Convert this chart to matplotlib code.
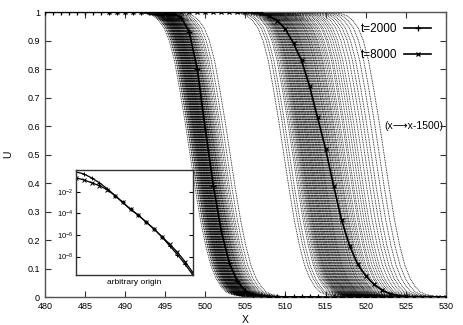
import matplotlib
matplotlib.use("Agg")
import matplotlib.pyplot as plt
from matplotlib.ticker import FuncFormatter, NullLocator

plt.rcParams['font.family'] = ['Liberation Sans', 'DejaVu Sans']

# averaged fronts (bold curves)
x_2000 = list(range(480, 524))
u_2000 = [1.0] * 16 + [0.995, 0.98, 0.93, 0.80, 0.59, 0.39, 0.23, 0.12, 0.055,
                       0.022, 0.008, 0.003] + [0.0] * 16
x_8000 = list(range(488, 531))
u_8000 = [1.0] * 18 + [0.999, 0.995, 0.985, 0.97, 0.94, 0.89, 0.83, 0.74, 0.63,
                       0.52, 0.39, 0.27, 0.18, 0.115, 0.075, 0.045, 0.025,
                       0.012, 0.005, 0.002] + [0.0] * 5

prof_dx = [-12, -7.8, -6.5, -5.2, -4.5, -3.9, -3.25, -2.6, -1.95, -1.3, -0.65,
           0, 0.65, 1.3, 1.95, 2.6, 3.25, 3.9, 4.5, 5.2, 6.5, 7.8, 12]
prof_u = [1.0, 1.0, 0.999, 0.993, 0.985, 0.97, 0.945, 0.9, 0.83, 0.73, 0.62,
          0.5, 0.38, 0.27, 0.18, 0.11, 0.065, 0.035, 0.018, 0.009, 0.002, 0.0, 0.0]
mid_2000 = [498.1, 498.3, 498.35, 498.5, 498.55, 498.6, 498.7, 498.72, 498.8,
            498.85, 498.9, 498.95, 499.0, 499.02, 499.08, 499.1, 499.15, 499.2,
            499.22, 499.28, 499.3, 499.35, 499.4, 499.42, 499.48, 499.5, 499.55,
            499.58, 499.6, 499.65, 499.7, 499.72, 499.78, 499.8, 499.85, 499.88,
            499.9, 499.95, 500.0, 500.02, 500.08, 500.1, 500.15, 500.2, 500.22,
            500.3, 500.32, 500.38, 500.4, 500.45, 500.5, 500.55, 500.6, 500.62,
            500.7, 500.75, 500.8, 500.85, 500.9, 501.0, 501.05, 501.1, 501.2,
            501.25, 501.3, 501.4, 501.5, 501.6, 501.7, 501.85, 502.0, 502.2,
            502.4, 502.7, 503.1]
mid_8000 = [509.8, 510.2, 510.5, 510.9, 511.1, 511.3, 511.45, 511.6, 511.7,
            511.8, 511.9, 512.0, 512.05, 512.15, 512.2, 512.3, 512.4, 512.45,
            512.55, 512.6, 512.7, 512.8, 512.85, 512.95, 513.0, 513.1, 513.15,
            513.25, 513.3, 513.4, 513.5, 513.55, 513.65, 513.7, 513.8, 513.9,
            513.95, 514.05, 514.1, 514.2, 514.3, 514.35, 514.45, 514.5, 514.6,
            514.7, 514.8, 514.9, 515.0, 515.1, 515.2, 515.3, 515.45, 515.5,
            515.6, 515.75, 515.8, 515.95, 516.1, 516.2, 516.35, 516.5, 516.6,
            516.8, 517.0, 517.2, 517.4, 517.7, 517.9, 518.2, 518.5, 518.8,
            519.1, 519.5, 519.9, 520.3, 520.7, 521.2, 521.7, 522.3]

# inset (log scale, arbitrary origin)
ins_x = list(range(16))
ins_a = [-0.18, -0.36, -0.73, -1.18, -1.73, -2.36, -3.0, -3.64, -4.18, -4.82,
         -5.45, -6.18, -7.0, -7.82, -8.73, -9.73]
ins_b = [-0.73, -0.91, -1.18, -1.45, -1.82, -2.36, -3.0, -3.64, -4.18, -4.82,
         -5.45, -6.15, -6.85, -7.6, -8.5, -9.5]

fig = plt.figure(figsize=(4.63, 3.25), dpi=100)
ax = fig.add_axes([0.097, 0.086, 0.866, 0.877])

for m in mid_2000 + mid_8000:
    ax.plot([m + d for d in prof_dx], prof_u, color='black', lw=0.6,
            ls=(0, (1, 1)), zorder=1)

ax.plot(x_2000, u_2000, color='black', lw=1.2, marker='+', ms=4, mew=0.9,
        label='t=2000', zorder=3)
ax.plot(x_8000, u_8000, color='black', lw=1.2, marker='x', ms=3, mew=0.9,
        label='t=8000', zorder=3)

ax.set_xlim(480, 530)
ax.set_ylim(0, 1)
ax.set_xticks(range(480, 531, 5))
ax.set_yticks([i / 10 for i in range(11)])
ax.yaxis.set_major_formatter(FuncFormatter(lambda v, p: '%g' % v))
ax.tick_params(direction='in', top=True, right=True, length=4, width=0.8,
               labelsize=6.5, colors='#333333', labelcolor='black')
for s in ax.spines.values():
    s.set_color('#555555')
    s.set_linewidth(1.0)
ax.set_xlabel('X', fontsize=7.5, labelpad=3)
ax.set_ylabel('U', fontsize=7.5, labelpad=10, rotation=90)

ax.legend(loc='upper right', markerfirst=False, frameon=False, fontsize=8.5,
          handlelength=2.3, handletextpad=0.6, labelspacing=1.2,
          bbox_to_anchor=(0.99, 1.0))
ax.text(0.993, 0.6, '(x\u27f6x-1500)', transform=ax.transAxes, ha='right',
        va='center', fontsize=7.5)

ins = fig.add_axes([0.164, 0.154, 0.253, 0.323])
ins.plot(ins_x, [10 ** v for v in ins_a], color='black', lw=0.9, marker='+',
         ms=3, mew=0.7)
ins.plot(ins_x, [10 ** v for v in ins_b], color='black', lw=0.9, marker='x',
         ms=2.5, mew=0.7)
ins.set_yscale('log')
ins.set_xlim(0, 15)
ins.set_ylim(2e-10, 1)
ins.set_yticks([1e-2, 1e-4, 1e-6, 1e-8])
ins.yaxis.set_minor_locator(NullLocator())
ins.set_xticks([])
ins.tick_params(direction='in', right=True, length=3, width=0.8,
                labelsize=5.5, pad=2)
for s in ins.spines.values():
    s.set_color('#333333')
    s.set_linewidth(1.0)
ins.set_xlabel('arbitrary origin', fontsize=6, labelpad=3)

fig.savefig('out.png', dpi=100)
